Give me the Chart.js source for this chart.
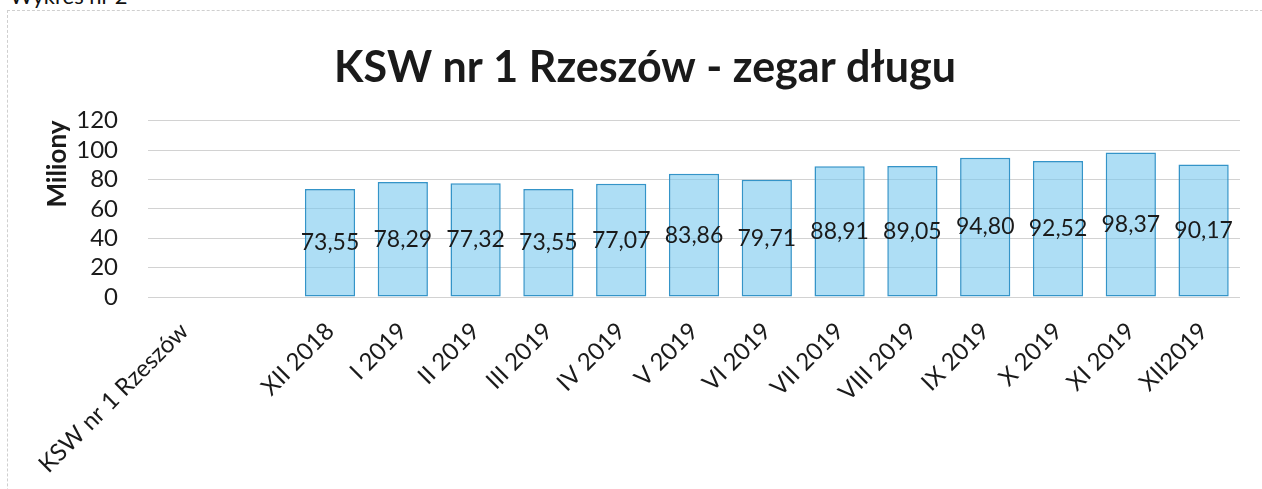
<!DOCTYPE html>
<html lang="pl">
<head>
<meta charset="utf-8">
<title>KSW nr 1 Rzeszów - zegar długu</title>
<script src="https://cdn.jsdelivr.net/npm/chart.js@4/dist/chart.umd.min.js"></script>
<style>
  html, body { margin: 0; padding: 0; background: #fff; }
  #wrap { position: relative; width: 1262px; height: 489px; overflow: hidden; }
  #frame { position: absolute; left: 7px; top: 10px; width: 1300px; height: 600px;
           border-left: 1px dashed #cfcfcf; border-top: 1px dashed #cfcfcf; }
  #caption { position: absolute; left: 10px; top: -18px; font: 22px Lato, sans-serif; color: #111; }
  #chart { position: absolute; left: 0; top: 0; }
</style>
</head>
<body>
<div id="wrap">
  <div id="frame"></div>
  <div id="caption">Wykres nr 2</div>
  <canvas id="chart" width="1262" height="489"></canvas>
</div>
<script>
// kategorie (druga pozycja pusta, jak w oryginale)
const categories = ['KSW nr 1 Rzeszów', '', 'XII 2018', 'I 2019', 'II 2019', 'III 2019', 'IV 2019',
  'V 2019', 'VI 2019', 'VII 2019', 'VIII 2019', 'IX 2019', 'X 2019', 'XI 2019', 'XII2019'];
// dług w milionach zł
const debt = [null, null, 73.55, 78.29, 77.32, 73.55, 77.07, 83.86, 79.71, 88.91, 89.05, 94.80, 92.52, 98.37, 90.17];
const yTicks = [0, 20, 40, 60, 80, 100, 120];

const FONT = 'Lato, "Open Sans", sans-serif';
const fmt = v => v.toFixed(2).replace('.', ',');

// etykiety wartości w środku słupka
const barLabels = {
  id: 'barLabels',
  afterDatasetsDraw(chart) {
    const ctx = chart.ctx;
    const meta = chart.getDatasetMeta(0);
    ctx.save();
    ctx.font = '23px ' + FONT;
    ctx.fillStyle = '#1a1a1a';
    ctx.textAlign = 'center';
    ctx.textBaseline = 'middle';
    meta.data.forEach((bar, i) => {
      const v = chart.data.datasets[0].data[i];
      if (v == null) return;
      ctx.fillText(fmt(v), bar.x, (bar.y + bar.base) / 2);
    });
    ctx.restore();
  }
};

new Chart(document.getElementById('chart'), {
  type: 'bar',
  data: {
    labels: categories,
    datasets: [{
      label: 'Miliony',
      data: debt,
      backgroundColor: 'rgba(120,200,238,0.6)',
      borderColor: '#3494c8',
      borderWidth: 1.5,
      borderSkipped: false,
      categoryPercentage: 1,
      barPercentage: 0.69,
    }],
  },
  options: {
    responsive: false,
    animation: false,
    layout: { padding: { left: 50, right: 22, top: 42, bottom: 0 } },
    plugins: {
      legend: { display: false },
      tooltip: { enabled: false },
      title: {
        display: true,
        text: 'KSW nr 1 Rzeszów - zegar długu',
        color: '#1a1a1a',
        font: { family: FONT, size: 43, weight: 'bold' },
        padding: { top: 0, bottom: 27 },
      },
    },
    scales: {
      x: {
        grid: { display: false },
        border: { display: false },
        ticks: {
          color: '#1a1a1a',
          font: { family: FONT, size: 24 },
          minRotation: 45, maxRotation: 45,
          autoSkip: false,
          padding: 12,
        },
        // stała wysokość osi, bez dodatkowego odsunięcia od obróconych etykiet
        afterFit(axis) { axis.height = 192; axis.paddingLeft = 0; axis.paddingRight = 0; },
      },
      y: {
        min: 0, max: 120,
        afterBuildTicks(axis) { axis.ticks = yTicks.map(v => ({ value: v })); },
        grid: { color: '#d2d2d2', lineWidth: 1, drawTicks: false },
        border: { display: false },
        ticks: {
          color: '#1a1a1a',
          font: { family: FONT, size: 24, lineHeight: 1 },
          padding: 30,
          autoSkip: false,
        },
        title: {
          display: true,
          text: 'Miliony',
          align: 'end',
          color: '#1a1a1a',
          font: { family: FONT, size: 26, weight: 'bold' },
          padding: { top: -8, bottom: 0 },
        },
        afterFit(axis) { axis.width = 98; axis.paddingTop = 0; axis.paddingBottom = 0; },
      },
    },
  },
  plugins: [barLabels],
});
</script>
</body>
</html>
